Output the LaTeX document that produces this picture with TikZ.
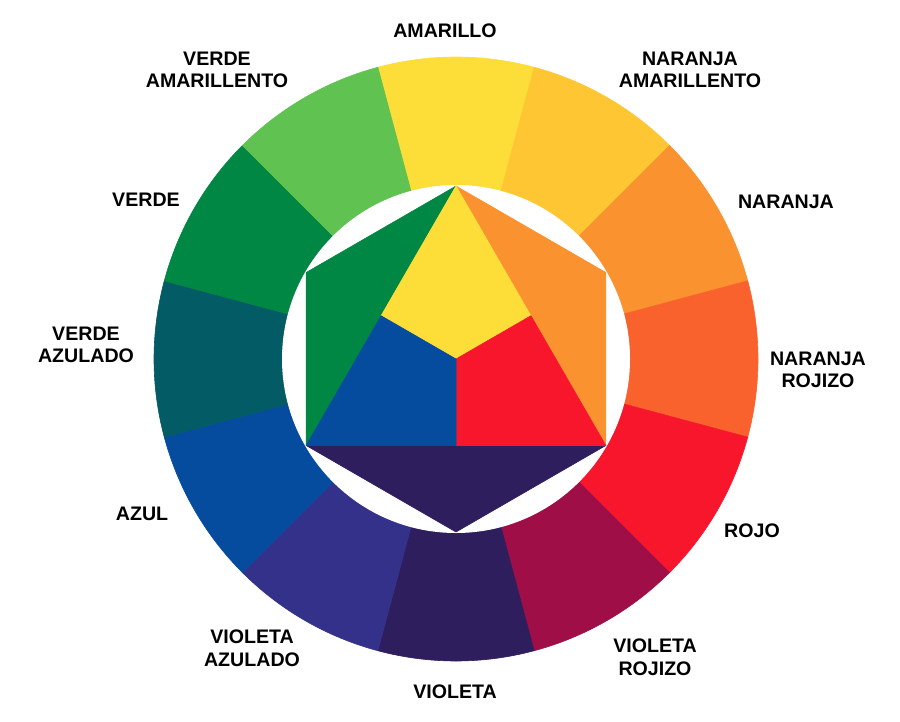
\documentclass[tikz,border=0pt]{standalone}
\usepackage{fontspec}
\setmainfont{Liberation Sans}
\usetikzlibrary{calc}
\definecolor{cAm}{RGB}{253,221,56}
\definecolor{cNAm}{RGB}{253,198,50}
\definecolor{cNa}{RGB}{250,146,48}
\definecolor{cNRo}{RGB}{249,97,45}
\definecolor{cRo}{RGB}{247,22,44}
\definecolor{cVRo}{RGB}{160,14,72}
\definecolor{cVi}{RGB}{46,30,94}
\definecolor{cVAz}{RGB}{52,49,139}
\definecolor{cAz}{RGB}{6,76,158}
\definecolor{cVeAz}{RGB}{3,91,102}
\definecolor{cVe}{RGB}{0,135,68}
\definecolor{cVeAm}{RGB}{96,194,80}
\begin{document}
\begin{tikzpicture}[x=1pt,y=-1pt,
  lab/.style={font=\bfseries\fontsize{19.6}{22.5}\selectfont, align=center, text=black, inner sep=0pt},
  wedge/.style={fill=#1, draw=#1, line width=0.6pt, line join=round}]
\useasboundingbox (0,0) rectangle (900,721);
\fill[white] (0,0) rectangle (900,721);
\begin{scope}[shift={(456,359)}, yscale=-1]
  \foreach \a/\c in {90/cAm,60/cNAm,30/cNa,0/cNRo,-30/cRo,-60/cVRo,-90/cVi,-120/cVAz,-150/cAz,180/cVeAz,150/cVe,120/cVeAm}{
    \path[wedge=\c] (0,0) -- (\a-15:302) arc[start angle=\a-15, end angle=\a+15, radius=302] -- cycle;
  }
  \fill[white] (0,0) circle (174);
  \coordinate (T) at (90:173);
  \coordinate (UL) at (150:173);
  \coordinate (LL) at (210:173);
  \coordinate (B) at (270:173);
  \coordinate (LR) at (330:173);
  \coordinate (UR) at (30:173);
  \coordinate (C) at (0,0);
  \coordinate (ML) at ($(T)!0.5!(LL)$);
  \coordinate (MR) at ($(T)!0.5!(LR)$);
  \coordinate (MB) at ($(LL)!0.5!(LR)$);
  \path[wedge=cVe] (T) -- (UL) -- (LL) -- cycle;
  \path[wedge=cNa] (T) -- (UR) -- (LR) -- cycle;
  \path[wedge=cVi] (LL) -- (LR) -- (B) -- cycle;
  \path[wedge=cAm] (T) -- (MR) -- (C) -- (ML) -- cycle;
  \path[wedge=cRo] (MR) -- (LR) -- (MB) -- (C) -- cycle;
  \path[wedge=cAz] (ML) -- (C) -- (MB) -- (LL) -- cycle;
\end{scope}
\node[lab] (amarillo) at (445,31) {AMARILLO};
\node[lab] (vam) at (217,70) {VERDE\\AMARILLENTO};
\node[lab] (nam) at (690,70) {NARANJA\\AMARILLENTO};
\node[lab] (verde) at (146,200) {VERDE};
\node[lab] (naranja) at (786,202) {NARANJA};
\node[lab] (vaz) at (86,345) {VERDE\\AZULADO};
\node[lab] (nroj) at (818,370) {NARANJA\\ROJIZO};
\node[lab] (azul) at (142,514) {AZUL};
\node[lab] (rojo) at (752,531) {ROJO};
\node[lab] (vviaz) at (252,648) {VIOLETA\\AZULADO};
\node[lab] (vroj) at (655,657) {VIOLETA\\ROJIZO};
\node[lab] (violeta) at (455,692) {VIOLETA};
\end{tikzpicture}
\end{document}
